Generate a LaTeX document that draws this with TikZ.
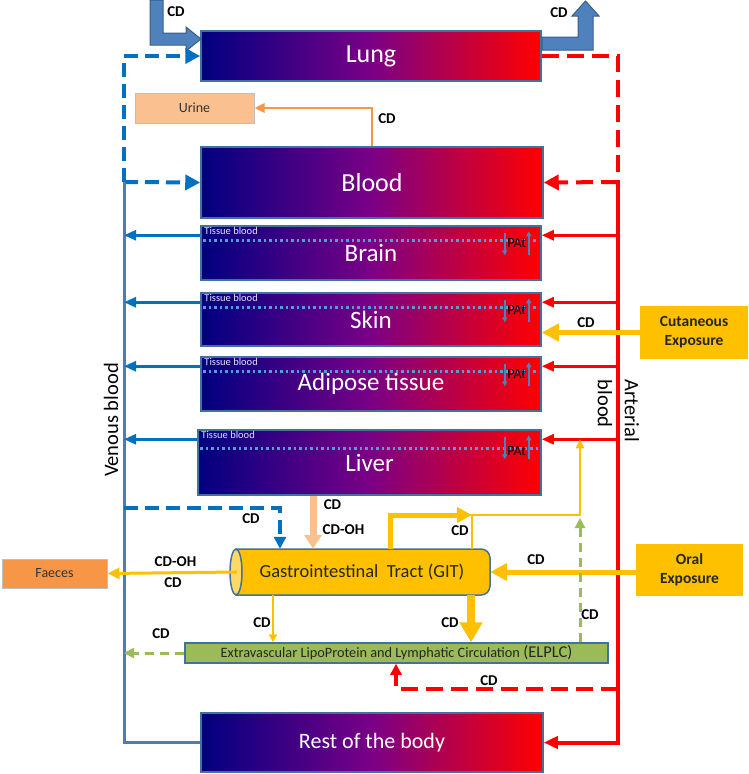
\documentclass[tikz,border=0pt]{standalone}
\usepackage{fontspec}
\setmainfont{Carlito}
\usetikzlibrary{arrows.meta,calc}
\definecolor{boxedge}{HTML}{41719C}
\definecolor{deepnavy}{HTML}{000080}
\definecolor{midpurple}{HTML}{7A0086}
\definecolor{hotred}{HTML}{FF0000}
\definecolor{vein}{HTML}{0070C0}
\definecolor{veinline}{HTML}{4A7EBB}
\definecolor{gold}{HTML}{FFC000}
\definecolor{paleend}{HTML}{FFD966}
\definecolor{peach}{HTML}{FAC090}
\definecolor{urineorange}{HTML}{F79646}
\definecolor{lymph}{HTML}{9BBB59}
\definecolor{blockblue}{HTML}{4F81BD}
\definecolor{blockedge}{HTML}{385D8A}
\definecolor{dotblue}{HTML}{5B9BD5}
\definecolor{greyedge}{HTML}{BFBFBF}
\begin{document}
\begin{tikzpicture}[x=1pt,y=-1pt,
  organ/.style={draw=boxedge, line width=1.5pt, left color=deepnavy, right color=hotred, middle color=midpurple, text=white, font=\fontsize{26}{30}\selectfont, inner sep=0pt},
  tissuetext/.style={text=white!88!blue, font=\fontsize{10.5}{12}\selectfont, inner sep=0pt},
  tissuedot/.style={dotblue, line width=3pt, dash pattern=on 2.5pt off 3pt},
  patarrow/.style={blockblue, line width=1.5pt, -{Triangle[length=5pt,width=5pt]}},
  pattext/.style={font=\fontsize{14}{16}\selectfont, text=black, inner sep=0pt},
  cdtext/.style={font=\fontsize{15}{18}\selectfont\bfseries, inner sep=0pt},
  artline/.style={hotred, line width=4pt},
  artarrow/.style={hotred, line width=2.5pt, -{Triangle[length=12pt,width=10pt]}},
  artdash/.style={hotred, line width=4pt, dash pattern=on 17pt off 8pt},
  venline/.style={veinline, line width=3pt},
  venarrow/.style={vein, line width=2.5pt, -{Triangle[length=12pt,width=10pt]}},
  vendash/.style={vein, line width=4pt, dash pattern=on 14pt off 7pt},
  bigtip/.style={-{Triangle[length=15pt,width=15pt]}},
  goldthick/.style={gold, line width=5pt, -{Triangle[length=17pt,width=17pt]}},
  goldthin/.style={gold, line width=2pt, -{Triangle[length=9pt,width=8pt]}},
  lymphdash/.style={lymph, line width=3pt, dash pattern=on 9pt off 6pt, -{Triangle[length=10pt,width=10pt]}},
  sink/.style={draw=greyedge, line width=1pt, font=\fontsize{14}{16}\selectfont, text=black!80, inner sep=0pt},
  exposure/.style={fill=gold, font=\fontsize{15.5}{19}\selectfont\bfseries, align=center, inner sep=0pt, text=black!85},
  sidetext/.style={font=\fontsize{20.5}{27}\selectfont, inner sep=0pt}
]
\useasboundingbox (0,0) rectangle (749,774);

\node[organ, minimum width=340pt, minimum height=50pt] (lung) at (371,56) {Lung};
\node[organ, minimum width=342pt, minimum height=71pt] (blood) at (372,182.5) {Blood};
\node[organ, minimum width=340pt, minimum height=54pt, font=\fontsize{25}{30}\selectfont] (brain) at (371,253) {Brain};
\node[organ, minimum width=340pt, minimum height=53pt, font=\fontsize{25}{30}\selectfont] (skin) at (371,319.5) {Skin};
\node[organ, minimum width=340pt, minimum height=54pt, font=\fontsize{25}{30}\selectfont] (adipose) at (371,384) {Adipose tissue};
\node[organ, minimum width=343pt, minimum height=65pt, font=\fontsize{25}{30}\selectfont] (liver) at (369.5,462.5) {Liver};
\node[organ, minimum width=342pt, minimum height=59pt, font=\fontsize{22}{26}\selectfont] (rest) at (372,742.5) {Rest of the body};

\node[sink, fill=peach, minimum width=119pt, minimum height=30pt] (urine) at (194.5,108) {Urine};
\node[sink, fill=urineorange, minimum width=105pt, minimum height=29pt] (faeces) at (54.5,573.5) {Faeces};
\node[exposure, minimum width=108pt, minimum height=53pt] (cut) at (694,332.5) {Cutaneous\\Exposure};
\node[exposure, minimum width=107pt, minimum height=52pt] (oral) at (689.5,570) {Oral\\Exposure};

\filldraw[fill=gold, draw=boxedge, line width=1.5pt] (236,549) [rounded corners=9pt] -- (490,549) -- (490,595) [sharp corners] -- (236,595) -- cycle;
\filldraw[fill=paleend, draw=boxedge, line width=1.5pt] (236,572) ellipse [x radius=6, y radius=23];
\node[minimum width=258pt, minimum height=46pt, inner sep=0pt, font=\fontsize{18.5}{22}\selectfont, text=black!85] (git) at (362,572) {Gastrointestinal\ \ Tract (GIT)};
\node[draw=boxedge, line width=1.5pt, fill=lymph, minimum width=423pt, minimum height=20pt, inner sep=0pt, font=\fontsize{14.3}{16}\selectfont, text=black!85] (elplc) at (396.5,653) {Extravascular LipoProtein and Lymphatic Circulation {\fontsize{16.5}{18}\selectfont(ELPLC)}};

\coordinate (vblood) at (124,182);
\coordinate (vtop) at (vblood |- lung.west);
\coordinate (vgit) at (124,508);
\coordinate (ablood) at (618,182);
\coordinate (atop) at (ablood |- lung.east);
\coordinate (ael) at (618,689);
\coordinate (elx) at (396,689);
\coordinate (xpeach) at (313,0);
\coordinate (xbluedash) at (280,0);
\coordinate (xthin) at (273,0);
\coordinate (xthick) at (471,0);
\coordinate (gt1) at (390,515);
\coordinate (gt2) at (472,515);
\coordinate (gl) at (580,515);
\coordinate (liverfeed) at ($(liver.north east)+(0,10)$);

\fill[blockblue, draw=blockedge, line width=1pt] (150,0) -- (163,0) -- (163,33) -- (186,33) -- (186,27) -- (201,39) -- (186,51) -- (186,45) -- (150,45) -- cycle;
\fill[blockblue, draw=blockedge, line width=1pt] (542,37) -- (578,37) -- (578,16) -- (572,16) -- (585.5,1) -- (599,16) -- (593,16) -- (593,50) -- (542,50) -- cycle;
\node[cdtext] (cd1) at (176,12) {CD};
\node[cdtext] (cd2) at (559,13) {CD};

\draw[vendash, bigtip] (vblood) -- (vtop) -- (lung.west);
\draw[vendash, bigtip] (vblood) -- (blood.west);
\draw[venline] (vblood) |- (rest.west);
\draw[artdash] (lung.east) -- (atop) -- (ablood);
\draw[artdash, bigtip] (ablood) -- (blood.east);
\draw[artline, -{Triangle[length=14pt,width=12pt]}] (ablood) |- (rest.east);

\draw[urineorange, line width=2.5pt, -{Triangle[length=10pt,width=9pt]}] (blood.north) |- (urine.east);
\node[cdtext] (cd3) at (387,119) {CD};

\foreach \o/\d in {brain/15,skin/15,adipose/15,liver/19}{
  \draw[tissuedot] ($(\o.north west)+(3,\d)$) -- ($(\o.north east)+(-3,\d)$);
  \node[tissuetext, anchor=north west] (\o tb) at ($(\o.north west)+(4,2)$) {Tissue blood};
  \draw[patarrow] ($(\o.north east)+(-37,8)$) -- ($(\o.north east)+(-37,30)$);
  \draw[patarrow] ($(\o.north east)+(-13,30)$) -- ($(\o.north east)+(-13,6)$);
  \node[pattext] (\o pat) at ($(\o.north east)+(-25,\d+3)$) {PAt};
  \coordinate (\o in) at ($(\o.north east)+(0,10)$);
  \coordinate (\o out) at ($(\o.north west)+(0,10)$);
  \draw[artarrow] (ablood |- \o in) -- (\o in);
  \draw[venarrow] (\o out) -- (vblood |- \o out);
}

\draw[gold, line width=5pt, -{Triangle[length=17pt,width=17pt]}] (cut.west) -- (skin.east |- cut.west);
\node[cdtext] (cd4) at (586,323) {CD};

\draw[peach, line width=7pt, -{Triangle[length=14pt,width=17pt]}] (xpeach |- liver.south) -- (xpeach |- git.north);
\node[cdtext] (cd5) at (332.5,505) {CD};
\node[cdtext] (cd6) at (343.5,530) {CD-OH};

\draw[vendash, -{Triangle[length=12pt,width=12pt]}] (vgit) -| (xbluedash |- git.north);
\node[cdtext] (cd7) at (251,519) {CD};

\draw[gold, line width=3pt, -{Triangle[length=12pt,width=11pt]}] ($(git.west)+(4,0)$) -- (faeces.east);
\node[cdtext] (cd8) at (175.5,562) {CD-OH};
\node[cdtext] (cd9) at (173,583) {CD};

\draw[goldthick] (oral.west |- git.east) -- ($(git.east)+(-1,0)$);
\node[cdtext] (cd10) at (536,560) {CD};

\draw[gold, line width=5pt, -{Triangle[length=15pt,width=15pt]}] (gt1 |- git.north) -- (gt1) -- (gt2);
\draw[goldthin] (gt2 |- git.north) -- (gt2) -- (gl) -- (gl |- liverfeed);
\node[cdtext] (cd11) at (460,531) {CD};

\draw[gold, line width=2pt, -{Triangle[length=8pt,width=8pt]}] (xthin |- git.south) -- (xthin |- elplc.north);
\node[cdtext] (cd12) at (262,623) {CD};
\draw[gold, line width=8pt, -{Triangle[length=20pt,width=22pt]}] (xthick |- git.south) -- (xthick |- elplc.north);
\node[cdtext] (cd13) at (450,623) {CD};

\draw[lymphdash] (gl |- elplc.north) -- ($(gl)+(0,3)$);
\node[cdtext] (cd14) at (590,615) {CD};
\draw[lymphdash] (elplc.west) -- (vblood |- elplc.west);
\node[cdtext] (cd15) at (161,634) {CD};

\draw[artdash, -{Triangle[length=11pt,width=11pt]}] (ael) -- (elx) -- (elx |- elplc.south);
\node[cdtext] (cd16) at (489,681) {CD};

\node[sidetext, rotate=90] (venlabel) at (111,420) {Venous blood};
\node[sidetext, rotate=-90, align=left] (artlabel) at (618.5,411) {Arterial\\blood};
\end{tikzpicture}
\end{document}
